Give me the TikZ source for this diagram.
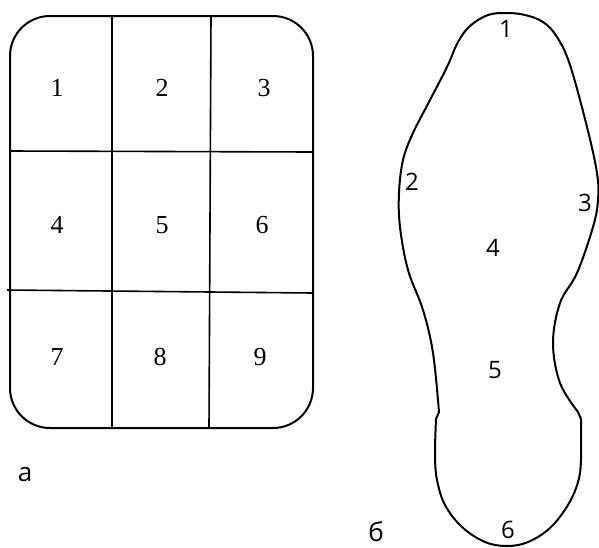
\documentclass[tikz,border=0pt]{standalone}
\usepackage{fontspec}
\newfontfamily\serifnum{Liberation Serif}
\newfontfamily\sansnum{Open Sans}
\begin{document}
\begin{tikzpicture}[x=0.5pt, y=-0.5pt, line join=round]
  \tikzset{
    grid_num/.style={inner sep=1pt, font=\serifnum\fontsize{13}{15}\selectfont},
    sole_num/.style={inner sep=1pt, font=\sansnum\fontsize{12}{14}\selectfont},
    part_lbl/.style={inner sep=1pt, font=\sansnum\fontsize{13}{15}\selectfont}
  }
  \useasboundingbox (0,0) rectangle (599,547);

  % Plantilla rectangular con esquinas redondeadas
  \draw[line width=1pt, rounded corners=20pt] (10,16) rectangle (313,428);

  % Líneas de la cuadrícula
  \draw[line width=0.8pt] (112,16) -- (112,428);
  \draw[line width=0.8pt] (211,16) -- (209,428);
  \draw[line width=0.8pt] (10,151) -- (313,152);
  \draw[line width=0.8pt] (7,290) -- (313,293);

  % Números de las zonas
  \node[grid_num] (z1) at (57,88) {1};
  \node[grid_num] (z2) at (162,88) {2};
  \node[grid_num] (z3) at (264,88) {3};
  \node[grid_num] (z4) at (57,225) {4};
  \node[grid_num] (z5) at (162,225) {5};
  \node[grid_num] (z6) at (262,225) {6};
  \node[grid_num] (z7) at (57,357) {7};
  \node[grid_num] (z8) at (160,357) {8};
  \node[grid_num] (z9) at (260,357) {9};

  % Contorno de la plantilla del calzado
  \draw[line width=1pt]
    plot[smooth, tension=0.6] coordinates {
      (439,412) (433,353) (423,310) (408,270) (400,227) (399,193)
      (403,160) (413,133) (430,100) (447,67) (458,42) (470,26)
      (488,15) (507,13) (525,15) (543,22) (557,37) (570,65)
      (587,127) (597,173) (598,200) (593,227) (577,273) (560,303)
      (553,343) (560,383) (578,412)}
    -- plot[smooth, tension=0.6] coordinates {
      (581,419) (581,460) (578,482) (568,505) (550,528) (528,542)
      (507,546) (485,542) (462,527) (445,505) (437,480) (435,455)
      (436,419)}
    -- cycle;

  % Números de la plantilla
  \node[sole_num] (s1) at (506,29) {1};
  \node[sole_num] (s2) at (412,182) {2};
  \node[sole_num] (s3) at (585,203) {3};
  \node[sole_num] (s4) at (493,248) {4};
  \node[sole_num] (s5) at (495,370) {5};
  \node[sole_num] (s6) at (508,530) {6};

  % Etiquetas de las figuras
  \node[part_lbl] (lbl_a) at (25,475) {а};
  \node[part_lbl] (lbl_b) at (376,532) {б};
\end{tikzpicture}
\end{document}
